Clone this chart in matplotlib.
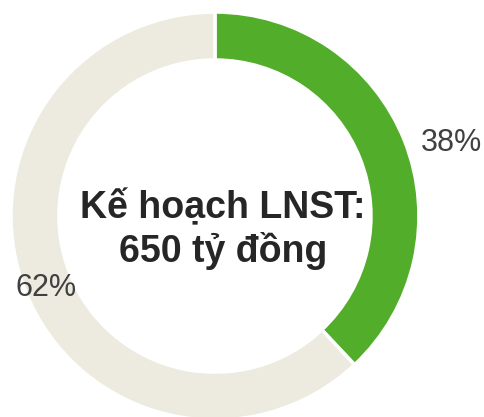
import matplotlib.pyplot as plt

# Dữ liệu
labels = ['Đã thực hiện', 'Còn lại']
values = [38, 62]
pct_labels = ['38%', '62%']
colors = ['#52ae2a', '#edebe0']
center_text = 'Kế hoạch LNST:\n650 tỷ đồng'

plt.rcParams['font.family'] = ['Liberation Sans', 'DejaVu Sans']

fig = plt.figure(figsize=(4.85, 4.17), dpi=100)
ax = fig.add_axes([0, 0, 1, 1])

wedges, _ = ax.pie(values, colors=colors, startangle=90, counterclock=False,
                   radius=1.0, wedgeprops=dict(width=0.235, edgecolor='white', linewidth=2.5))

# vị trí nhãn phần trăm (toạ độ trục)
label_pos = [(1.16, 0.36), (-0.83, -0.355)]
for txt, (x, y) in zip(pct_labels, label_pos):
    ax.text(x, y, txt, ha='center', va='center', fontsize=22, color='#404040')

ax.text(0.04, -0.065, center_text, ha='center', va='center', fontsize=27,
        fontweight='bold', color='#262626', linespacing=1.2)

ax.set_xlim(-1.054, 1.324)
ax.set_ylim(-0.985, 1.059)
ax.set_aspect('auto')
ax.axis('off')

plt.savefig('out.png', dpi=100)
